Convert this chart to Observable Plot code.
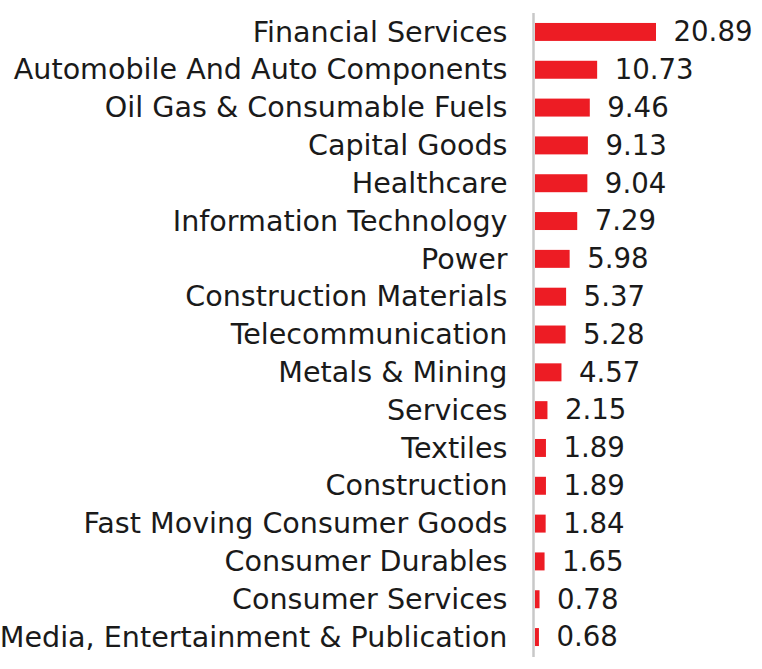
<!DOCTYPE html>
<html>
<head>
<meta charset="utf-8">
<script src="https://cdn.jsdelivr.net/npm/d3@7"></script>
<script src="https://cdn.jsdelivr.net/npm/@observablehq/plot@0.6"></script>
<style>
  html, body { margin: 0; padding: 0; background: #fff; }
  #chart svg { display: block; }
</style>
</head>
<body>
<div id="chart"></div>
<script>
const sectors = [
  "Financial Services",
  "Automobile And Auto Components",
  "Oil Gas & Consumable Fuels",
  "Capital Goods",
  "Healthcare",
  "Information Technology",
  "Power",
  "Construction Materials",
  "Telecommunication",
  "Metals & Mining",
  "Services",
  "Textiles",
  "Construction",
  "Fast Moving Consumer Goods",
  "Consumer Durables",
  "Consumer Services",
  "Media, Entertainment & Publication"
];
const weights = [20.89, 10.73, 9.46, 9.13, 9.04, 7.29, 5.98, 5.37, 5.28, 4.57, 2.15, 1.89, 1.89, 1.84, 1.65, 0.78, 0.68];

const data = sectors.map((s, i) => ({sector: s, value: weights[i]}));
const font = "'DejaVu Sans', sans-serif";

const chart = Plot.plot({
  width: 762,
  height: 669,
  marginLeft: 535,
  marginRight: 106,
  marginTop: 0,
  marginBottom: 0,
  style: {fontFamily: font, color: "#1a1a1a", background: "#fff"},
  x: {domain: [0, 20.89], axis: null},
  y: {domain: sectors, paddingInner: 0.525, paddingOuter: 0.607, round: false, axis: null},
  marks: [
    Plot.ruleX([0], {dx: -2, stroke: "#c8c8c8", strokeWidth: 2.5, insetTop: 13, insetBottom: 12}),
    Plot.barX(data, {x: "value", y: "sector", fill: "#ed1c24"}),
    Plot.axisY({anchor: "left", tickSize: 0, tickPadding: 28, fontSize: 28.6, fill: "#1a1a1a", label: null}),
    Plot.text(data, {x: "value", y: "sector", text: d => d.value.toFixed(2), textAnchor: "start", dx: 17, fontSize: 27.6, fill: "#1a1a1a"})
  ]
});
document.getElementById("chart").appendChild(chart);
</script>
</body>
</html>
